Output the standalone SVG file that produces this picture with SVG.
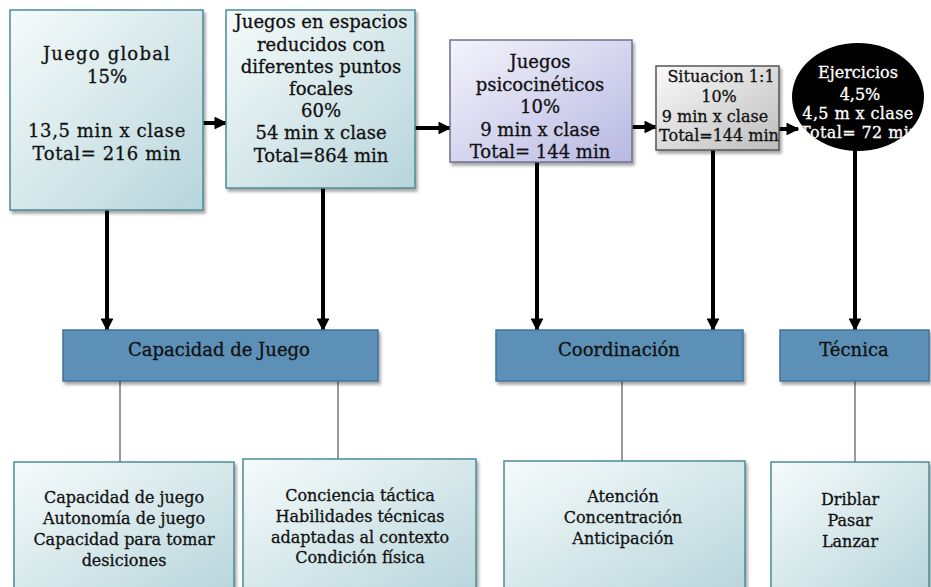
<svg xmlns="http://www.w3.org/2000/svg" width="931" height="587" viewBox="0 0 931 587">
<defs>
<linearGradient id="gBlue" x1="0" y1="0" x2="1" y2="1">
<stop offset="0" stop-color="#f6fbfb"/><stop offset="1" stop-color="#b7d5db"/>
</linearGradient>
<linearGradient id="gLav" x1="0" y1="0" x2="1" y2="1">
<stop offset="0" stop-color="#f4f4fc"/><stop offset="1" stop-color="#b8b8e2"/>
</linearGradient>
<linearGradient id="gGray" x1="0" y1="0" x2="1" y2="1">
<stop offset="0" stop-color="#fafafa"/><stop offset="1" stop-color="#bdbdbd"/>
</linearGradient>
<filter id="sh" x="-10%" y="-10%" width="130%" height="130%">
<feDropShadow dx="2" dy="3" stdDeviation="1.5" flood-color="#000" flood-opacity="0.35"/>
</filter>
<clipPath id="circClip"><ellipse cx="858" cy="97" rx="66" ry="54"/></clipPath>
<marker id="ah" viewBox="0 0 10 10" refX="9" refY="5" markerWidth="3.2" markerHeight="3.2" orient="auto" markerUnits="strokeWidth">
<path d="M0,0 L10,5 L0,10 z" fill="#000"/>
</marker>
</defs>
<style>
.t{font-family:"DejaVu Serif","Liberation Serif",serif;font-size:18px;fill:#111;stroke:#111;stroke-width:0.3;text-anchor:middle}
.b{font-size:16px}
.s{font-size:16px}
.w{fill:#fff;stroke:#fff}
.bx{fill:url(#gBlue);stroke:#4b8c96;stroke-width:1.5;filter:url(#sh)}
.mid{fill:#5b90b7;stroke:#41729b;stroke-width:1.5;filter:url(#sh)}
.ar{stroke:#000;stroke-width:4;fill:none;marker-end:url(#ah)}
.ln{stroke:#000;stroke-width:4.5;fill:none;filter:url(#sh)}
.th{stroke:#555;stroke-width:1.2;fill:none}
</style>

<g id="connectors">
<line class="ar" x1="203" y1="123" x2="226" y2="123"/>
<line class="ar" x1="415" y1="128" x2="450" y2="128"/>
<line class="ar" x1="632" y1="127" x2="656" y2="127"/>
<line class="ar" x1="779" y1="129" x2="798" y2="129"/>
<line class="ar" x1="107" y1="210" x2="107" y2="330"/>
<line class="ar" x1="323" y1="188" x2="323" y2="330"/>
<line class="ar" x1="537" y1="162" x2="537" y2="330"/>
<line class="ar" x1="713" y1="150" x2="713" y2="330"/>
<line class="ar" x1="855" y1="150" x2="855" y2="330"/>
<line class="ln" x1="378" y1="355" x2="496" y2="355"/>
<line class="ln" x1="743" y1="355" x2="780" y2="355"/>
<line class="th" x1="120" y1="381" x2="120" y2="462"/>
<line class="th" x1="338" y1="381" x2="338" y2="459"/>
<line class="th" x1="622" y1="381" x2="622" y2="461"/>
<line class="th" x1="855" y1="381" x2="855" y2="462"/>
</g>

<g id="juego-global">
<rect class="bx" x="10" y="10" width="193" height="200"/>
<text class="t" x="107" y="60" letter-spacing="1.2">Juego global</text>
<text class="t" x="107" y="83">15%</text>
<text class="t" x="107" y="137" letter-spacing="0.6">13,5 min x clase</text>
<text class="t" x="107" y="160" letter-spacing="0.6">Total= 216 min</text>
</g>

<g id="juegos-espacios">
<rect class="bx" x="226" y="10" width="189" height="178"/>
<text class="t" x="321" y="28">Juegos en espacios</text>
<text class="t" x="321" y="51">reducidos con</text>
<text class="t" x="321" y="73">diferentes puntos</text>
<text class="t" x="321" y="95">focales</text>
<text class="t" x="321" y="117">60%</text>
<text class="t" x="321" y="139">54 min x clase</text>
<text class="t" x="321" y="162">Total=864 min</text>
</g>

<g id="juegos-psico">
<rect x="450" y="40" width="182" height="122" fill="url(#gLav)" stroke="#6f6f90" stroke-width="1.5" filter="url(#sh)"/>
<text class="t" x="540" y="68">Juegos</text>
<text class="t" x="540" y="91">psicocinéticos</text>
<text class="t" x="540" y="113">10%</text>
<text class="t" x="540" y="136">9 min x clase</text>
<text class="t" x="540" y="158">Total= 144 min</text>
</g>

<g id="situacion">
<rect x="656" y="66" width="123" height="84" fill="url(#gGray)" stroke="#555" stroke-width="1.5" filter="url(#sh)"/>
<text class="t s" x="721" y="82">Situacion 1:1</text>
<text class="t s" x="719" y="102">10%</text>
<text class="t s" x="715" y="122">9 min x clase</text>
<text class="t s" x="719" y="141">Total=144 min</text>
</g>

<g id="ejercicios">
<ellipse cx="858" cy="97" rx="66" ry="54" fill="#000"/>
<g clip-path="url(#circClip)">
<text class="t s w" x="858" y="78">Ejercicios</text>
<text class="t s w" x="860" y="100">4,5%</text>
<text class="t s w" x="858" y="119" letter-spacing="0.4">4,5 m x clase</text>
<text class="t s w" x="860" y="138" letter-spacing="0.4">Total= 72 min</text>
</g>
</g>

<g id="capacidad">
<rect class="mid" x="63" y="330" width="315" height="51"/>
<text class="t" x="219" y="356">Capacidad de Juego</text>
</g>

<g id="coordinacion">
<rect class="mid" x="496" y="330" width="247" height="51"/>
<text class="t" x="619" y="356">Coordinación</text>
</g>

<g id="tecnica">
<rect class="mid" x="780" y="330" width="149" height="51"/>
<text class="t" x="854" y="356">Técnica</text>
</g>

<g id="lista-capacidad">
<rect class="bx" x="14" y="462" width="220" height="135"/>
<text class="t b" x="124" y="503">Capacidad de juego</text>
<text class="t b" x="124" y="524">Autonomía de juego</text>
<text class="t b" x="124" y="545">Capacidad para tomar</text>
<text class="t b" x="124" y="566">desiciones</text>
</g>

<g id="lista-conciencia">
<rect class="bx" x="243" y="459" width="233" height="138"/>
<text class="t b" x="360" y="501">Conciencia táctica</text>
<text class="t b" x="360" y="522">Habilidades técnicas</text>
<text class="t b" x="360" y="543">adaptadas al contexto</text>
<text class="t b" x="360" y="563">Condición física</text>
</g>

<g id="lista-coordinacion">
<rect class="bx" x="504" y="461" width="241" height="136"/>
<text class="t b" x="623" y="502">Atención</text>
<text class="t b" x="623" y="523">Concentración</text>
<text class="t b" x="623" y="544">Anticipación</text>
</g>

<g id="lista-tecnica">
<rect class="bx" x="771" y="462" width="158" height="135"/>
<text class="t b" x="850" y="505">Driblar</text>
<text class="t b" x="850" y="526">Pasar</text>
<text class="t b" x="850" y="547">Lanzar</text>
</g>
</svg>
